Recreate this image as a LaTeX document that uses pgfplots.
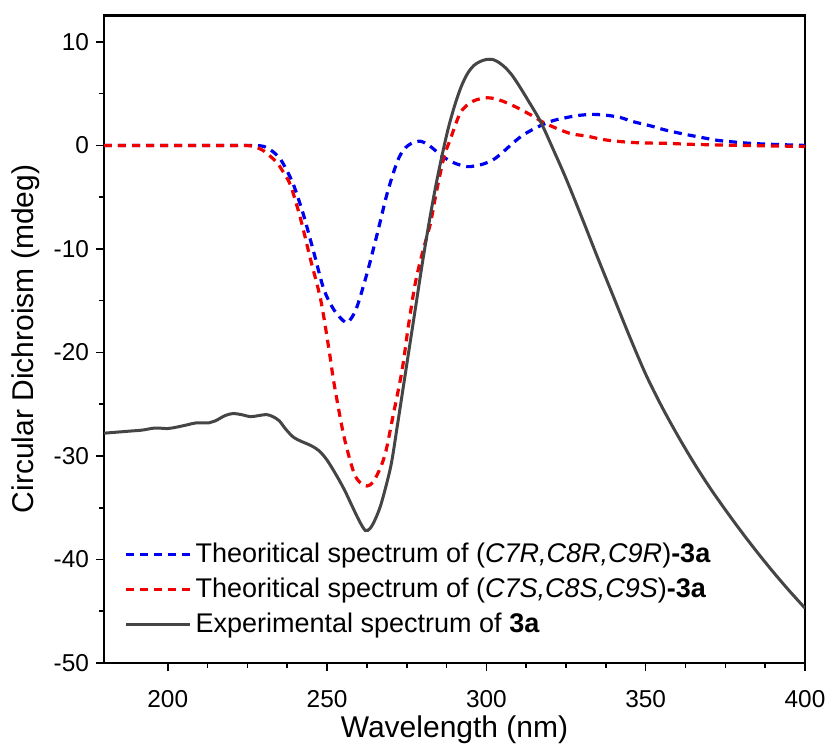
\documentclass[border=0pt]{standalone}
\usepackage{pgfplots}
\pgfplotsset{compat=1.18}
\usepackage{fontspec}
\setmainfont{Liberation Sans}

\definecolor{expgray}{HTML}{454545}
\definecolor{cdblue}{HTML}{0000F0}
\definecolor{cdred}{HTML}{F00000}

\begin{document}
\begin{tikzpicture}
\begin{axis}[
    width=350.5pt,
    height=324pt,
    scale only axis,
    xmin=180, xmax=400,
    ymin=-50, ymax=12.6,
    xtick={200,250,300,350,400},
    ytick={-50,-40,-30,-20,-10,0,10},
    minor x tick num=3,
    minor y tick num=1,
    tick align=outside,
    tick pos=left,
    major tick length=4pt,
    minor tick length=2.5pt,
    tick style={black, line width=0.8pt},
    axis line style={black, line width=1pt},
    ticklabel style={font=\fontsize{12.2}{14}\selectfont},
    xticklabel style={yshift=-6pt},
    /pgf/number format/assume math mode=true,
    xlabel={Wavelength (nm)},
    ylabel={Circular Dichroism (mdeg)},
    label style={font=\fontsize{15}{18}\selectfont},
    xlabel style={yshift=2.5pt},
    legend style={draw=none, fill=none, font=\fontsize{13.5}{16}\selectfont,
        at={(0.02,0.198)}, anchor=north west, row sep=2.2pt},
    legend cell align=left,
    legend image code/.code={\draw[#1] (0pt,0pt) -- (32pt,0pt);},
]
\addplot[cdblue, line width=1.6pt, dash pattern=on 4pt off 3pt, smooth] coordinates {
(180,0) (200,0) (220,0) (227,0) (230.2,-0.1) (233,-0.6) (235.4,-1.35) (237.5,-2.5)
(239.6,-3.9) (242.7,-6.8) (245.9,-10.4) (249,-13.9) (252.2,-15.9) (255.8,-17.1)
(257.6,-16.7) (259.5,-15.5) (262.6,-12.3) (265.7,-8.6) (268.9,-4.6) (272,-1.6)
(274.1,-0.4) (276.5,0.2) (279.3,0.4) (282,0.0) (285.6,-0.9) (288,-1.4) (290.8,-1.8)
(294,-2.05) (296,-2.0) (299,-1.8) (302.3,-1.35) (305,-0.7) (308.6,0.3) (312,1.1)
(316.9,1.9) (321,2.4) (325.3,2.7) (329,2.9) (333.6,3.0) (338,2.9) (342,2.7)
(346,2.3) (351.4,1.9) (356,1.5) (361.9,1.1) (367,0.8) (372.3,0.5) (377,0.35)
(382.8,0.2) (390,0.1) (400,0)
};
\addlegendentry{Theoritical spectrum of (\textit{C7R,C8R,C9R})\textbf{-3a}}
\addplot[cdred, line width=1.6pt, dash pattern=on 4pt off 3pt, smooth] coordinates {
(180,0) (200,0) (220,0) (224,0) (227,-0.1) (230,-0.5) (232,-1.0) (234.4,-1.7)
(236.5,-2.7) (238.6,-3.9) (241.7,-7.1) (244.8,-11.0) (248,-14.9) (250.6,-19.7)
(252.2,-23.0) (255.3,-28.1) (258.4,-31.6) (260.5,-32.6) (262.6,-32.9) (264.5,-32.5)
(266.8,-31.1) (268.5,-29.5) (270.6,-26.3) (273.5,-21.8) (275.5,-17.5) (277.7,-13.3)
(280,-10.3) (282.4,-7.6) (284,-5.0) (285.6,-2.6) (287,-0.8) (288.7,0.6) (290.3,2.0)
(291.9,3.2) (294,3.9) (296,4.3) (298,4.5) (300.2,4.6) (303,4.5) (306.5,4.1)
(310,3.6) (314.8,2.8) (318,2.2) (323.2,1.5) (327,1.1) (331.6,0.9) (336,0.6)
(341,0.4) (348,0.25) (356.6,0.2) (365,0.1) (380,0) (390,-0.05) (400,-0.1)
};
\addlegendentry{Theoritical spectrum of (\textit{C7S,C8S,C9S})\textbf{-3a}}
\addplot[expgray, line width=1.5pt, smooth] coordinates {
(180,-27.8) (184,-27.7) (188,-27.6) (192,-27.5) (196,-27.3) (200,-27.35) (203,-27.2)
(206,-27.0) (209,-26.8) (213,-26.8) (215,-26.6) (218,-26.1) (220.5,-25.9) (223,-26.0)
(226,-26.2) (228.5,-26.1) (231,-26.0) (233,-26.2) (235,-26.6) (237,-27.4) (239.5,-28.2)
(242,-28.6) (245,-29.0) (247.5,-29.5) (250,-30.4) (253,-31.9) (255.5,-33.3)
(257.5,-34.6) (260,-36.2) (262,-37.2) (263.5,-37.0) (265,-36.2) (267,-34.6)
(270,-31.0) (272,-27.2) (274,-23.2) (276,-19.2) (278,-15.2) (280,-11.2) (282,-7.5)
(284,-4.1) (286,-1.1) (288,1.6) (290,3.8) (292,5.6) (294,6.9) (296,7.7) (298,8.1)
(300,8.3) (302,8.3) (304,8.0) (306,7.5) (308,6.8) (310,5.9) (313,4.4) (317,2.3)
(321,-0.4) (325,-3.2) (330,-7.0) (335,-10.9) (340,-14.7) (345,-18.5) (350,-22.1)
(355,-25.2) (360,-28.0) (365,-30.6) (370,-33.0) (375,-35.2) (380,-37.3) (385,-39.3)
(390,-41.2) (395,-43.0) (400,-44.7)
};
\addlegendentry{Experimental spectrum of \textbf{3a}}
\draw[black, line width=1.6pt] (rel axis cs:0,1) -- (rel axis cs:1,1);
\end{axis}
\path (current axis.south west) ++(-52pt,-41pt) rectangle ([shift={(14pt,7.5pt)}]current axis.north east);
\end{tikzpicture}
\end{document}
